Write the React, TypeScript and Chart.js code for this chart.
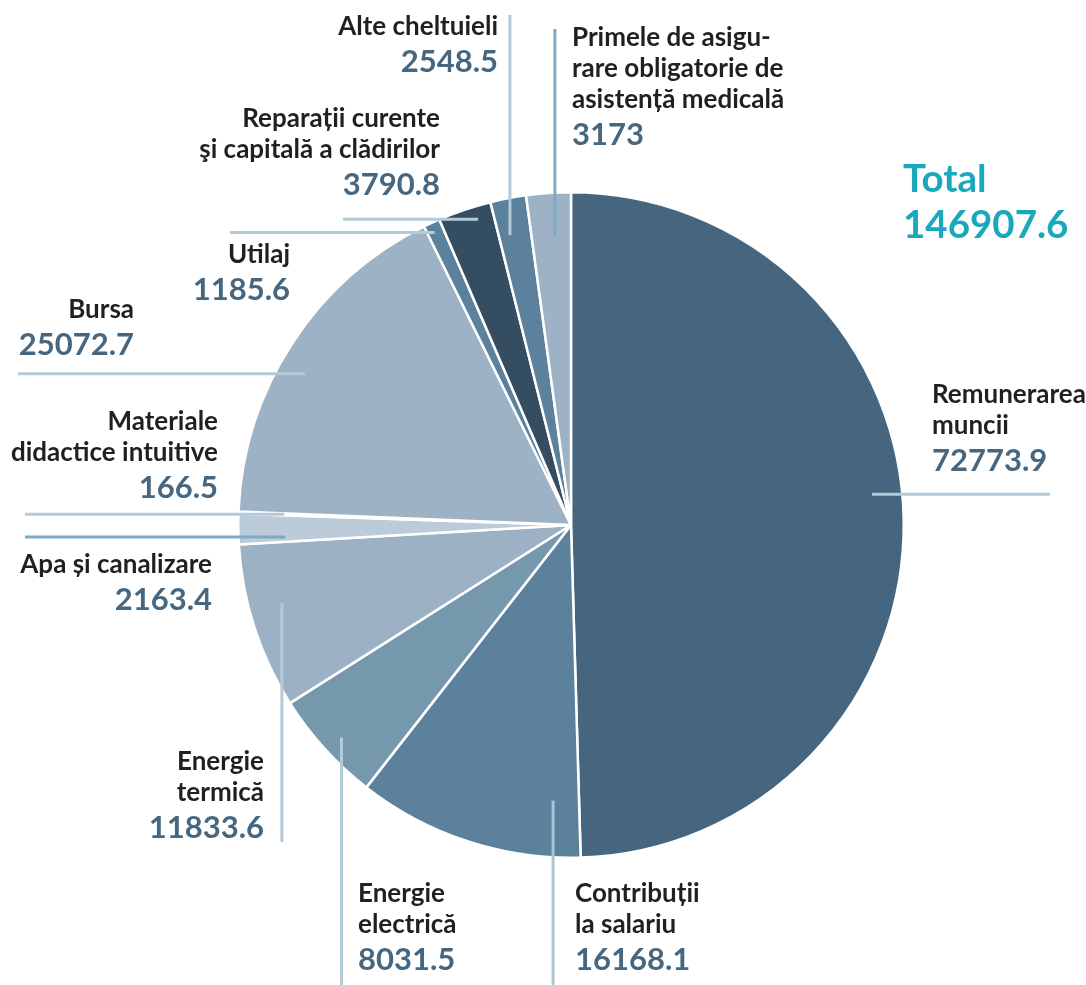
import React, { useEffect, useRef } from "react";
import { Chart, registerables } from "chart.js";

Chart.register(...registerables);

// ---- data ----
const categories = [
  "Remunerarea muncii",
  "Contribuții la salariu",
  "Energie electrică",
  "Energie termică",
  "Apa și canalizare",
  "Materiale didactice intuitive",
  "Bursa",
  "Utilaj",
  "Reparații curente şi capitală a clădirilor",
  "Alte cheltuieli",
  "Primele de asigurare obligatorie de asistență medicală",
];
const values = [72773.9, 16168.1, 8031.5, 11833.6, 2163.4, 166.5, 25072.7, 1185.6, 3790.8, 2548.5, 3173];
const labelLines = [
  ["Remunerarea", "muncii"],
  ["Contribuții", "la salariu"],
  ["Energie", "electrică"],
  ["Energie", "termică"],
  ["Apa și canalizare"],
  ["Materiale", "didactice intuitive"],
  ["Bursa"],
  ["Utilaj"],
  ["Reparații curente", "şi capitală a clădirilor"],
  ["Alte cheltuieli"],
  ["Primele de asigu-", "rare obligatorie de", "asistență medicală"],
];
const totalTitle = "Total";

// ---- styles ----
const sliceColors = [
  "#45667e",
  "#5b819c",
  "#7598ad",
  "#9cb2c4",
  "#bccbd9",
  "#5b819c",
  "#9db3c5",
  "#5b819c",
  "#344d61",
  "#5b819c",
  "#9db3c5",
];
const LIGHT = "#b3cbd8";
const DARK = "#7eaac3";
const MID = "#a9c6d6";
const FONT = "Lato";
const LABEL_COLOR = "#231f20";
const VALUE_COLOR = "#46677f";
const TOTAL_COLOR = "#19a8bc";

// label layout: t = fraction along slice angle, f = fraction of radius for anchor,
// dir = leader direction, to = leader end coordinate, x/y = text anchor (first baseline)
const layout = [
  { t: 0.472, f: 0.909, dir: "h", to: 1050, x: 932, y: 403, align: "left", line: LIGHT },
  { t: 0.136, f: 0.83, dir: "v", to: 985, x: 575, y: 902, align: "left", line: MID },
  { t: 0.47, f: 0.94, dir: "v", to: 985, x: 358, y: 902, align: "left", line: LIGHT },
  { t: 0.595, f: 0.9, dir: "v", to: 842, x: 264, y: 770, align: "right", line: LIGHT },
  { t: 0.18, f: 0.86, dir: "h", to: 25, x: 212, y: 573, align: "right", line: DARK },
  { t: 0.5, f: 0.862, dir: "h", to: 25, x: 218, y: 430, align: "right", line: LIGHT },
  { t: 0.444, f: 0.92, dir: "h", to: 18, x: 134, y: 318, align: "right", line: LIGHT },
  { t: 0.42, f: 0.97, dir: "h", to: 230, x: 290, y: 263, align: "right", line: LIGHT },
  { t: 0.69, f: 0.96, dir: "h", to: 343, x: 440, y: 127, align: "right", line: LIGHT },
  { t: 0.34, f: 0.89, dir: "v", to: 15, x: 498, y: 35, align: "right", line: LIGHT },
  { t: 0.59, f: 0.87, dir: "v", to: 29, x: 572, y: 46, align: "left", line: DARK },
];

const labelPlugin = {
  id: "pieLabels",
  afterDatasetsDraw(chart: any) {
    const ctx = chart.ctx;
    const meta = chart.getDatasetMeta(0);
    ctx.save();
    meta.data.forEach((arc: any, i: number) => {
      const L = layout[i];
      const { x, y, startAngle, endAngle, outerRadius } = arc.getProps(
        ["x", "y", "startAngle", "endAngle", "outerRadius"],
        true
      );
      const a = startAngle + L.t * (endAngle - startAngle);
      const ax = x + Math.cos(a) * outerRadius * L.f;
      const ay = y + Math.sin(a) * outerRadius * L.f;
      ctx.beginPath();
      ctx.strokeStyle = L.line;
      ctx.lineWidth = 3;
      ctx.moveTo(ax, ay);
      if (L.dir === "h") ctx.lineTo(L.to, ay);
      else ctx.lineTo(ax, L.to);
      ctx.stroke();

      ctx.textAlign = L.align as CanvasTextAlign;
      ctx.textBaseline = "alphabetic";
      ctx.fillStyle = LABEL_COLOR;
      ctx.font = `bold 26px ${FONT}`;
      const lines = labelLines[i];
      lines.forEach((s, k) => ctx.fillText(s, L.x, L.y + k * 31));
      ctx.fillStyle = VALUE_COLOR;
      ctx.font = `bold 31px ${FONT}`;
      ctx.fillText(String(values[i]), L.x, L.y + (lines.length - 1) * 31 + 37);
    });
    const total = values.reduce((s, v) => s + v, 0);
    ctx.textAlign = "left";
    ctx.fillStyle = TOTAL_COLOR;
    ctx.font = `bold 38.5px ${FONT}`;
    ctx.fillText(totalTitle, 903, 192);
    ctx.fillText(total.toFixed(1), 903, 238);
    ctx.restore();
  },
};

export default function App() {
  const ref = useRef<HTMLCanvasElement | null>(null);
  useEffect(() => {
    if (!ref.current) return;
    const chart = new Chart(ref.current, {
      type: "pie",
      data: {
        labels: categories,
        datasets: [
          {
            data: values,
            backgroundColor: sliceColors,
            borderColor: "#ffffff",
            borderWidth: 2.5,
          },
        ],
      },
      options: {
        animation: false,
        responsive: false,
        devicePixelRatio: 1,
        layout: { padding: { left: 237, right: 181, top: 191, bottom: 126 } },
        plugins: { legend: { display: false }, tooltip: { enabled: false } },
      },
      plugins: [labelPlugin],
    });
    return () => chart.destroy();
  }, []);
  return (
    <div style={{ position: "fixed", left: 0, top: 0, width: 1086, height: 985, background: "#fff" }}>
      <canvas ref={ref} width={1086} height={985} />
    </div>
  );
}
